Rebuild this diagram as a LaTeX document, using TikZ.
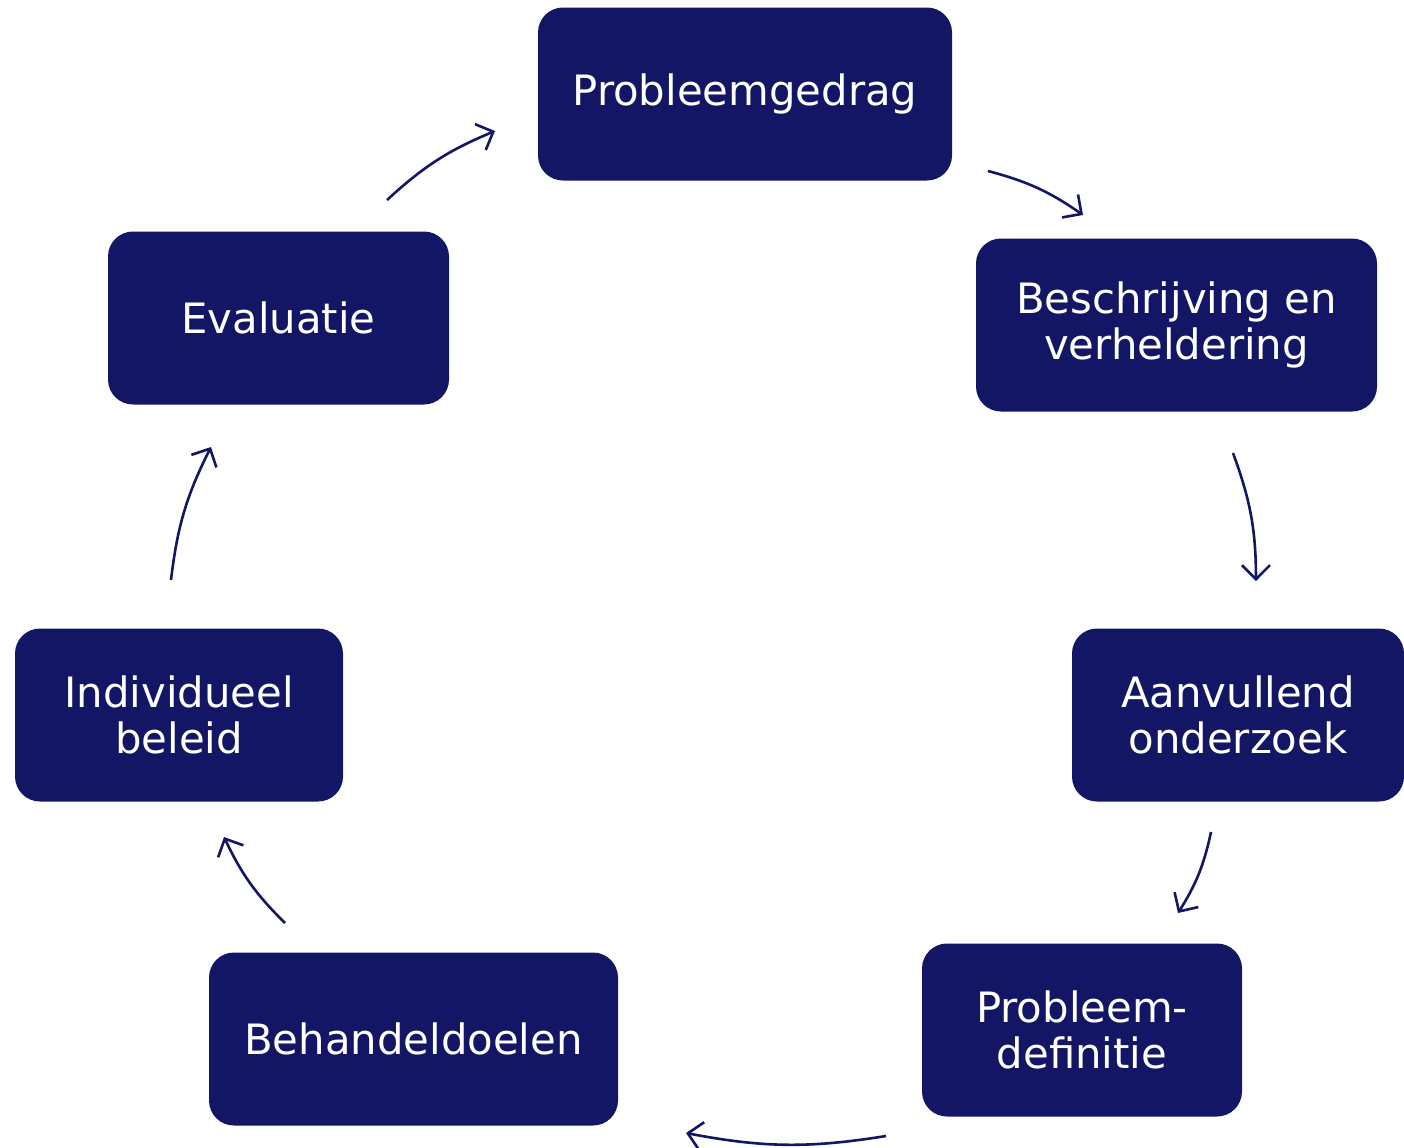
\documentclass[tikz,border=0pt]{standalone}
\usepackage{fontspec}
\setmainfont{DejaVu Sans}
\usetikzlibrary{arrows.meta}
\definecolor{navy}{RGB}{18,22,100}
\tikzset{
  stap/.style={fill=navy,text=white,rounded corners=12.5pt,inner sep=0pt,
               minimum height=86.5pt,align=center,
               font=\fontsize{20.9}{23}\selectfont},
  pijl/.style={-{Straight Barb[length=7pt,width=14pt]},line width=1.3pt,
               navy,bend left=10},
}

\begin{document}
\begin{tikzpicture}[x=0.5pt,y=-0.5pt]
  \useasboundingbox (0,0) rectangle (1404,1147);
  % de stappen van de cirkel
  \node[stap,minimum width=207pt]   (gedrag) at (745,94)   {Probleemgedrag};
  \node[stap,minimum width=200.5pt] (besch)  at (1176.5,325) {Beschrijving en\\verheldering};
  \node[stap,minimum width=166pt]   (aanv)   at (1238,715) {Aanvullend\\onderzoek};
  \node[stap,minimum width=160pt]   (defin)  at (1082,1030) {Probleem-\\definitie};
  \node[stap,minimum width=204.5pt] (doelen) at (413.5,1039) {Behandeldoelen};
  \node[stap,minimum width=164pt]   (beleid) at (179,715)  {Individueel\\beleid};
  \node[stap,minimum width=170.5pt] (eval)   at (278.5,318)  {Evaluatie};
  % eindpunten van de pijlen
  \coordinate (p1a) at (988,171);  \coordinate (p1b) at (1083,215);
  \coordinate (p2a) at (1233,453); \coordinate (p2b) at (1256,581);
  \coordinate (p3a) at (1211,832); \coordinate (p3b) at (1178,913);
  \coordinate (p4a) at (886,1136); \coordinate (p4b) at (686,1133);
  \coordinate (p5a) at (285,923);  \coordinate (p5b) at (224,837);
  \coordinate (p6a) at (171,580);  \coordinate (p6b) at (211,447);
  \coordinate (p7a) at (387,200);  \coordinate (p7b) at (495,131);
  \foreach \a/\b in {p1a/p1b,p2a/p2b,p3a/p3b,p4a/p4b,p5a/p5b,p6a/p6b,p7a/p7b}
    \draw[pijl] (\a) to (\b);
\end{tikzpicture}
\end{document}
